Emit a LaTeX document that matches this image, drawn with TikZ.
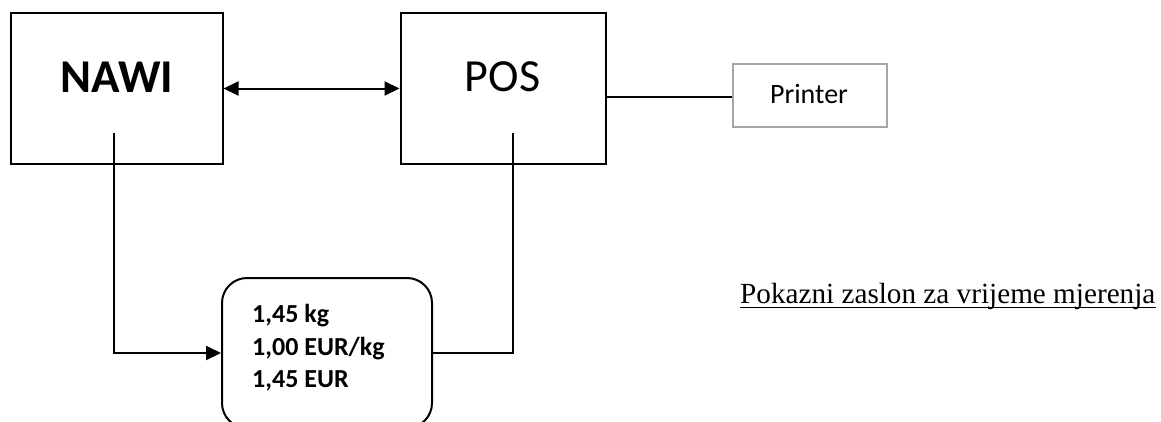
\documentclass[tikz,border=0pt]{standalone}
\usepackage{fontspec}
\setmainfont{Carlito}
\newfontfamily\serifface{Liberation Serif}
\usetikzlibrary{arrows.meta}
\begin{document}
\begin{tikzpicture}[x=1pt,y=1pt,
  unit/.style={draw,line width=2pt,inner sep=0pt,minimum height=151pt},
  wire/.style={line width=2pt},
  headtip/.style={-{Triangle[length=15pt,width=14pt]}},
  bothtips/.style={{Triangle[length=15pt,width=14pt]}-{Triangle[length=15pt,width=14pt]}},
  lbl/.style={inner sep=0pt,anchor=base}]
\useasboundingbox (0,0) rectangle (1161,-421);

% main units
\node[unit,minimum width=212pt] (nawi) at (116.5,-88.5) {};
\node[unit,minimum width=205pt] (pos) at (503,-88.5) {};
\node[draw=black!35,line width=2pt,inner sep=0pt,minimum width=154pt,minimum height=63pt] (printer) at (810,-95.5) {};
\node[draw,line width=2pt,rounded corners=25pt,inner sep=0pt,minimum width=210pt,minimum height=150pt] (disp) at (327,-353) {};

% labels
\node[lbl] (nawiT) at (117,-92) {\fontsize{47}{50}\selectfont\bfseries NAWI};
\node[lbl] (posT) at (502.5,-91) {\fontsize{46}{50}\selectfont POS};
\node[lbl] (printerT) at (809,-103) {\fontsize{28}{32}\selectfont Printer};
\node[lbl,anchor=base west] (l1) at (252,-322) {\fontsize{26}{30}\selectfont\bfseries 1,45 kg};
\node[lbl,anchor=base west] (l2) at (252,-355) {\fontsize{26}{30}\selectfont\bfseries 1,00 EUR/kg};
\node[lbl,anchor=base west] (l3) at (252,-387) {\fontsize{26}{30}\selectfont\bfseries 1,45 EUR};
\node[lbl,anchor=base west] (cap) at (740,-303) {\serifface\fontsize{29.2}{33}\selectfont Pokazni zaslon za vrijeme mjerenja};
\draw[line width=1.8pt] ([yshift=-4.5pt]cap.base west) -- ([yshift=-4.5pt]cap.base east);

% connectors
\coordinate (nawiOut) at (114.3,-133);
\coordinate (posOut) at (513,-133);
\draw[wire,bothtips] (nawi.east) -- (pos.west);
\draw[wire] (pos.east |- 0,-97) -- (printer.west |- 0,-97);
\draw[wire,headtip] (nawiOut) |- (disp.west);
\draw[wire] (posOut) |- (disp.east);
\end{tikzpicture}
\end{document}
